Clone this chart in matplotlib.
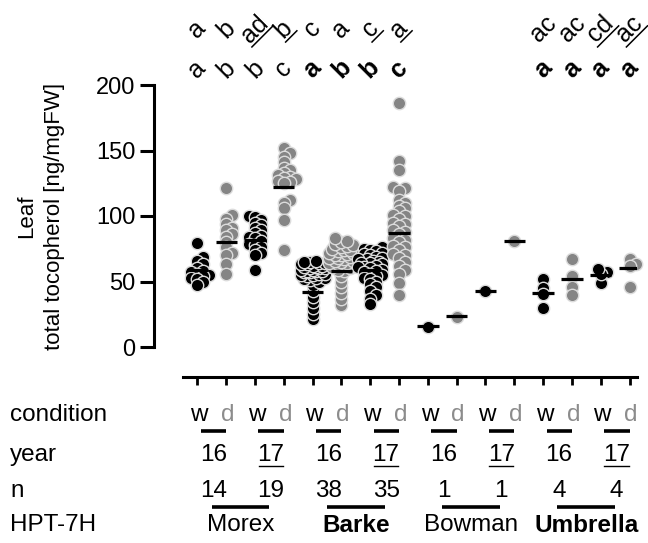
import numpy as np
import matplotlib
matplotlib.use("Agg")
import matplotlib.pyplot as plt
from matplotlib.lines import Line2D
import matplotlib.transforms as mtransforms

plt.rcParams['font.family'] = ['Liberation Sans', 'DejaVu Sans']

# ---------------- data ----------------
genotypes = ["Morex", "Barke", "Bowman", "Umbrella"]
genotype_bold = [False, True, False, True]
years = ["16", "17"]
conditions = ["w", "d"]
n_labels = ["14", "19", "38", "35", "1", "1", "4", "4"]

morex_16_w = [79.6, 69, 66, 63, 60, 58, 57, 56, 55, 54, 53, 52, 50, 47]
morex_16_d = [121, 101, 98, 94, 91, 89, 86, 84, 80, 76, 72, 70, 63, 56]
morex_17_w = [100, 99, 97, 95, 93, 91, 89, 87, 85, 84, 83, 81, 79, 78, 76, 74, 72, 70, 59]
morex_17_d = [152, 148, 145, 141, 137, 135, 133, 131, 130, 129, 128, 127, 126, 125, 112, 110, 106, 97, 74]
barke_16_w = [21, 25, 29.5, 34, 38.5, 43, 47.5,
              50, 51, 52, 53, 53, 54, 55, 55, 56, 56, 57, 57, 58, 58, 58, 59, 59, 60, 60, 60, 61,
              61, 62, 62, 63, 63, 64, 64, 65, 65, 66]
barke_16_d = [32, 36.5, 41, 45.5, 50, 54.5,
              58, 59, 60, 61, 62, 62, 63, 64, 64, 65, 66, 66, 67, 68, 68, 69, 70, 70, 71, 72, 72,
              73, 74, 74, 75, 76, 77, 78, 79, 80, 81, 83]
barke_17_w = [76, 75, 74, 73, 72, 71, 70, 69, 68, 67, 67, 66, 65, 64, 64, 63, 62, 61, 61, 60,
              59, 58, 57, 56, 55, 54, 53, 52, 50, 48, 46, 43, 40, 37, 33]
barke_17_d = [186, 142, 135, 122, 121, 119, 112, 110, 108, 106, 104, 101, 100, 98, 95, 94, 92, 89,
              88, 86, 83, 82, 80, 77, 76, 74, 71, 70, 68, 65, 62, 59, 56, 49, 40]
bowman_16_w = [15.5]
bowman_16_d = [23]
bowman_17_w = [43]
bowman_17_d = [81]
umbrella_16_w = [51.6, 45.3, 40.2, 29.5]
umbrella_16_d = [67, 54.2, 46, 39.7]
umbrella_17_w = [57.5, 49, 55.7, 59.5]
umbrella_17_d = [67, 63.5, 62, 45.5]

groups = [morex_16_w, morex_16_d, morex_17_w, morex_17_d,
          barke_16_w, barke_16_d, barke_17_w, barke_17_d,
          bowman_16_w, bowman_16_d, bowman_17_w, bowman_17_d,
          umbrella_16_w, umbrella_16_d, umbrella_17_w, umbrella_17_d]
group_means = [59, 80, 82, 122, 42, 58, 59, 87, 16, 24, 43, 81, 41, 52, 55, 60]

letters_lower = ["a", "b", "b", "c", "a", "b", "b", "c", "", "", "", "", "a", "a", "a", "a"]
letters_lower_bold = [False] * 4 + [True] * 4 + [False] * 4 + [True] * 4
letters_upper = ["a", "b", "ad", "b", "c", "a", "c", "a", "", "", "", "", "ac", "ac", "cd", "ac"]
letters_upper_underline = [False, False, True, True, False, False, True, True,
                           False, False, False, False, False, False, True, True]

# ---------------- figure ----------------
W, H = 648, 543
fig = plt.figure(figsize=(W / 100, H / 100), dpi=100)
ax = fig.add_axes([183 / W, 1 - 347 / H, 454 / W, 262 / H])
ax.set_xlim(-0.5, 15.26)
ax.set_ylim(0, 200)

for s in ["top", "right"]:
    ax.spines[s].set_visible(False)
ax.spines["left"].set_position(("outward", 29 * 0.72))
ax.spines["left"].set_bounds(0, 200)
ax.spines["left"].set_linewidth(2.2)
ax.spines["bottom"].set_position(("outward", 30 * 0.72))
ax.spines["bottom"].set_bounds(-0.5, 15.26)
ax.spines["bottom"].set_linewidth(2.2)

ax.set_yticks([0, 50, 100, 150, 200])
ax.tick_params(axis="y", length=10, width=2.2, labelsize=17, pad=3.5)
ax.set_xticks(np.arange(16))
ax.set_xticklabels([])
ax.tick_params(axis="x", length=6, width=2.0)

fig.text(40.5 / W, 1 - 216 / H, "Leaf\ntotal tocopherol [ng/mgFW]", rotation=90,
         ha="center", va="center", multialignment="center", fontsize=16, linespacing=1.4)

# pixel scales
p0 = ax.transData.transform((0, 0))
p1 = ax.transData.transform((1, 1))
xs_px, ys_px = p1 - p0


def swarm(vals, dia=5.0, step=3.0, maxw=14.0):
    vals = np.asarray(vals, dtype=float)
    order = np.argsort(vals, kind="stable")
    placed = []
    offs = np.zeros(len(vals))
    cands = [0.0]
    k = 1
    while k * step <= maxw:
        cands += [k * step, -k * step]
        k += 1
    for i in order:
        y = vals[i] * ys_px
        best, best_d = 0.0, -1.0
        for c in cands:
            dmin = min([np.hypot(c - px, y - py) for (px, py) in placed] + [1e9])
            if dmin >= dia:
                best = c
                break
            if dmin > best_d:
                best, best_d = c, dmin
        placed.append((best, y))
        offs[i] = best
    return offs / xs_px


black = "#000000"
grey = "#858585"
for i, vals in enumerate(groups):
    offs = swarm(vals)
    col = black if i % 2 == 0 else grey
    ax.scatter(i + offs, vals, s=80, facecolor=col, edgecolor="#dcdcdc",
               linewidth=1.0, zorder=3, clip_on=False)
    ax.plot([i - 0.37, i + 0.37], [group_means[i]] * 2, color="black",
            lw=2.3, zorder=4, solid_capstyle="butt")

# ---------------- significance letters ----------------
blend = mtransforms.blended_transform_factory(ax.transData, fig.transFigure)
y_low = 1 - 69 / H
y_up = 1 - 29 / H
fs_let = 18
for i in range(16):
    if letters_lower[i]:
        fig.text(i, y_low, letters_lower[i], transform=blend, rotation=45,
                 rotation_mode="anchor", ha="center", va="center", fontsize=fs_let,
                 fontweight="bold" if letters_lower_bold[i] else "normal")
    if letters_upper[i]:
        fig.text(i, y_up, letters_upper[i], transform=blend, rotation=45,
                 rotation_mode="anchor", ha="center", va="center", fontsize=fs_let)
        if letters_upper_underline[i]:
            cx, cy = blend.transform((i, y_up))
            L = len(letters_upper[i]) * 0.556 * fs_let / 0.72 + 2
            d = 10.5
            u = np.array([np.cos(np.pi / 4), np.sin(np.pi / 4)])
            nrm = np.array([np.sin(np.pi / 4), -np.cos(np.pi / 4)])
            c = np.array([cx, cy]) + nrm * d
            a = c - u * L / 2
            b = c + u * L / 2
            fig.add_artist(Line2D([a[0], b[0]], [a[1], b[1]], color="black", lw=1.1,
                                  transform=mtransforms.IdentityTransform()))

# ---------------- bottom annotation rows ----------------
fs_row = 17.5
row_y = {"condition": 1 - 415 / H, "year": 1 - 455 / H, "n": 1 - 491 / H, "HPT-7H": 1 - 525 / H}
for name, yy in row_y.items():
    fig.text(10 / W, yy, name, ha="left", va="center", fontsize=fs_row)

for i in range(16):
    cond = conditions[i % 2]
    fig.text(i + 0.05, row_y["condition"], cond, transform=blend, ha="center", va="center",
             fontsize=fs_row, color="black" if cond == "w" else "#8c8c8c")
for p in range(8):
    i = 2 * p
    fig.add_artist(Line2D([i + 0.12, i + 1.0], [1 - 431 / H] * 2, color="black", lw=2.6,
                          transform=blend, solid_capstyle="butt"))
    yr = years[p % 2]
    fig.text(i + 0.55, row_y["year"], yr, transform=blend, ha="center", va="center", fontsize=fs_row)
    if yr == "17":
        fig.add_artist(Line2D([i + 0.55 - 0.42, i + 0.55 + 0.42], [1 - 466 / H] * 2, color="black",
                              lw=1.0, transform=blend))
    fig.text(i + 0.55, row_y["n"], n_labels[p], transform=blend, ha="center", va="center", fontsize=fs_row)
for g in range(4):
    base = 4 * g
    fig.add_artist(Line2D([base + 0.5, base + 2.5], [1 - 507 / H] * 2, color="black", lw=2.6,
                          transform=blend, solid_capstyle="butt"))
    fig.text(base + 1.5, row_y["HPT-7H"], genotypes[g], transform=blend, ha="center", va="center",
             fontsize=fs_row, fontweight="bold" if genotype_bold[g] else "normal")

fig.savefig("out.png", dpi=100)
